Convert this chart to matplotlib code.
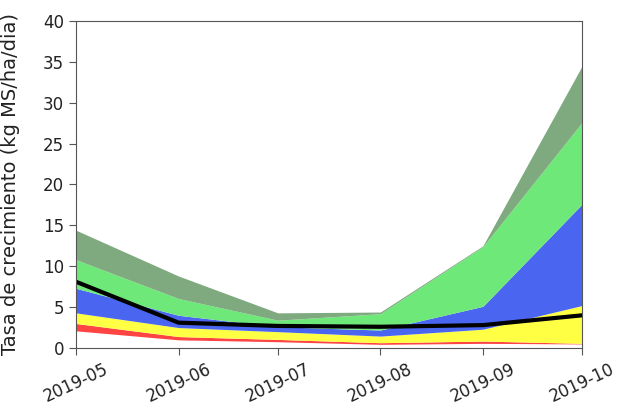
import matplotlib
matplotlib.use("Agg")
import matplotlib.pyplot as plt
import matplotlib.dates as mdates
import pandas as pd

fechas = pd.to_datetime(["2019-05-01", "2019-06-01", "2019-07-01",
                         "2019-08-01", "2019-09-01", "2019-10-01"])

# percentile bands (kg MS/ha/dia)
p_min = [2.1, 1.0, 0.77, 0.45, 0.57, 0.5]
p10 = [3.0, 1.4, 1.05, 0.65, 0.85, 0.57]
p25 = [4.3, 2.5, 2.0, 1.46, 2.3, 5.2]
p75 = [7.3, 4.0, 2.6, 2.2, 5.1, 17.6]
p90 = [10.8, 6.05, 3.4, 4.2, 12.4, 27.6]
p_max = [14.4, 8.8, 4.3, 4.4, 12.5, 34.5]
mediana = [8.1, 3.1, 2.7, 2.6, 2.8, 4.0]

fig = plt.figure(figsize=(6.18, 4.08), dpi=100)
ax = fig.add_axes([0.123, 0.147, 0.819, 0.802])

ax.fill_between(fechas, p_min, p10, color="#ff4444", lw=0)
ax.fill_between(fechas, p10, p25, color="#ffff44", lw=0)
ax.fill_between(fechas, p25, p75, color="#4a66f0", lw=0)
ax.fill_between(fechas, p75, p90, color="#6ee878", lw=0)
ax.fill_between(fechas, p90, p_max, color="#7faa7f", lw=0)
ax.plot(fechas, mediana, color="black", lw=3)

ax.set_xlim(fechas[0], fechas[-1])
ax.set_ylim(0, 40)
ax.xaxis.set_major_locator(mdates.MonthLocator())
ax.xaxis.set_major_formatter(mdates.DateFormatter("%Y-%m"))
plt.setp(ax.get_xticklabels(), rotation=25, ha="center")
ax.tick_params(labelsize=12, colors="#222222")
ax.tick_params(length=5, color="#555555")
ax.set_ylabel("Tasa de crecimiento (kg MS/ha/dia)", fontsize=14, color="#222222")
ax.yaxis.set_label_coords(-0.111, 0.5)
for s in ax.spines.values():
    s.set_color("#555555")

fig.savefig("out.png", dpi=100)
